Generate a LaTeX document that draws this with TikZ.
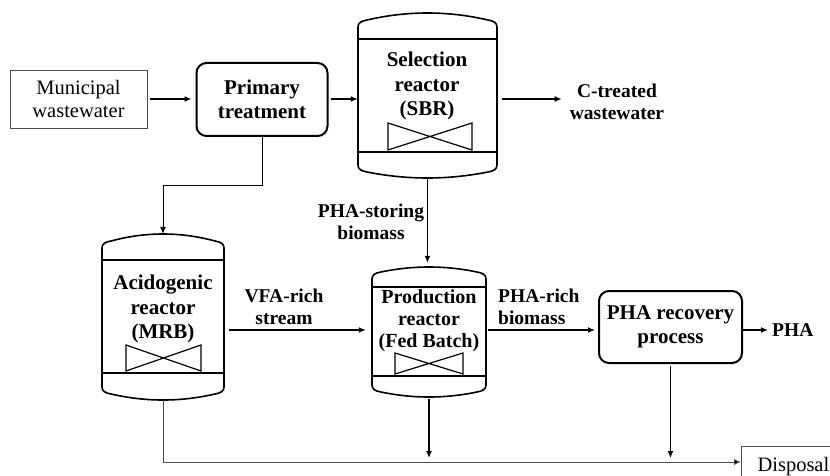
\documentclass[tikz,border=0pt]{standalone}
\usepackage{fontspec}
\setmainfont{Liberation Serif}
\usetikzlibrary{arrows.meta,calc}

\tikzset{
  vesselline/.style={line width=1.6pt},
  mixerline/.style={line width=1.2pt},
  flow/.style={line width=1.3pt,-{Latex[length=7pt,width=6pt]}},
  thinflow/.style={line width=0.9pt,-{Latex[length=7pt,width=6pt]}},
  greyflow/.style={line width=0.9pt,draw=black!70,-{Latex[length=7pt,width=6pt,fill=black]}},
  unitbox/.style={draw,line width=2pt,rounded corners=10pt,align=center,
    font=\bfseries\fontsize{21}{24}\selectfont},
  plainbox/.style={draw=black!70,line width=0.8pt,align=center,
    font=\fontsize{20.5}{23}\selectfont},
  lbl/.style={align=center,font=\bfseries\fontsize{19.5}{22.5}\selectfont,inner sep=0pt},
  headlbl/.style={lbl,font=\bfseries\fontsize{21}{24.5}\selectfont},
}

% vessel: #1 name, #2 left, #3 right, #4 top apex, #5 upper shoulder,
% #6 lower shoulder, #7 bottom apex, #8 upper divider, #9 lower divider
\newcommand\vessel[9]{%
  \pgfmathsetmacro\vtc{(#4-0.25*(#5-7))/0.75}%
  \pgfmathsetmacro\vbc{(#7-0.25*(#6+7))/0.75}%
  \pgfmathsetmacro\vthird{(#3-#2-18)/3}%
  \pgfmathsetmacro\vw{#3-#2}%
  \pgfmathsetmacro\vh{#7-#4}%
  \draw[vesselline] (#2,#6) -- (#2,#5)
    .. controls (#2,#5-4) and (#2+3,#5-6) .. (#2+9,#5-7)
    .. controls ({#2+9+\vthird},\vtc) and ({#3-9-\vthird},\vtc) .. (#3-9,#5-7)
    .. controls (#3-3,#5-6) and (#3,#5-4) .. (#3,#5)
    -- (#3,#6)
    .. controls (#3,#6+4) and (#3-3,#6+6) .. (#3-9,#6+7)
    .. controls ({#3-9-\vthird},\vbc) and ({#2+9+\vthird},\vbc) .. (#2+9,#6+7)
    .. controls (#2+3,#6+6) and (#2,#6+4) .. (#2,#6) -- cycle;
  \draw[vesselline] (#2,#8) -- (#3,#8) (#2,#9) -- (#3,#9);
  \node[inner sep=0pt,minimum width=\vw pt,minimum height=\vh pt]
    (#1) at ({(#2+#3)/2},{(#4+#7)/2}) {};%
}
% bow-tie mixer between two corners
\newcommand\mixer[4]{%
  \draw[mixerline] (#1,#2) -- (#3,#4) -- (#3,#2) -- (#1,#4) -- cycle;%
}

\begin{document}
\begin{tikzpicture}[x=1pt,y=-1pt]
\useasboundingbox (0,0) rectangle (830,476);
\clip (0,0) rectangle (830,476);

% reference levels for the flow lines
\coordinate (mainrow) at (0,99);
\coordinate (lowrow) at (0,330);
\coordinate (droplvl) at (0,458);
\coordinate (wasterow) at (0,462);

% vessels
\vessel{sel}{358}{497}{13}{27}{165}{178}{39}{152}
\mixer{388}{123}{472}{150}
\vessel{acid}{102}{224}{234}{248}{387}{400}{260}{373}
\mixer{126}{345}{201}{371}
\vessel{prod}{372}{486}{267}{279}{385}{397}{287}{376}
\mixer{395}{353}{463}{374}

% vessel labels
\node[headlbl] (seltxt) at (427,86) {Selection\\reactor\\(SBR)};
\node[headlbl] (acidtxt) at (163,309) {Acidogenic\\reactor\\(MRB)};
\node[lbl,font=\bfseries\fontsize{20}{22}\selectfont] (prodtxt) at (429,321) {Production\\reactor\\(Fed Batch)};

% process boxes
\node[plainbox,minimum width=137pt,minimum height=58pt] (mun) at (78.5,99) {Municipal\\wastewater};
\node[unitbox,minimum width=131pt,minimum height=73pt] (prim) at (262,99.5) {Primary\\treatment};
\node[unitbox,minimum width=143pt,minimum height=72pt] (rec) at (670.5,327) {PHA recovery\\process};
\node[plainbox,minimum width=104pt,minimum height=40pt,anchor=north west] (disp) at (741,446) {Disposal};

% stream labels
\node[lbl] (ctw) at (617,102) {C-treated\\wastewater};
\node[lbl] (stor) at (371,222) {PHA-storing\\biomass};
\node[lbl] (vfa) at (284,307) {VFA-rich\\stream};
\node[lbl,align=left,anchor=west] (rich) at (498,307) {PHA-rich\\biomass};
\node[lbl,anchor=west] (pha) at (772,330) {PHA};

% connectors
\draw[flow,shorten <=3pt,shorten >=4pt] (mun.east |- mainrow) -- (prim.west |- mainrow);
\draw[flow,shorten <=2pt] (prim.east |- mainrow) -- (sel.west |- mainrow);
\draw[flow,shorten <=5pt,shorten >=8pt] (sel.east |- mainrow) -- (ctw.west |- mainrow);
\draw[flow,shorten >=4pt] (sel.south) -- (sel.south |- prod.north);
\draw[thinflow] (prim.south) -- ++(0,48) -| (acid.north);
\draw[flow,shorten <=5pt,shorten >=6pt] (acid.east |- lowrow) -- (prod.west |- lowrow);
\draw[flow,shorten <=2pt,shorten >=3pt] (prod.east |- lowrow) -- (rec.west |- lowrow);
\draw[flow,shorten >=4pt] (rec.east |- lowrow) -- (pha.west |- lowrow);
\draw[flow,shorten <=2pt] (rec.south) -- (rec.south |- droplvl);
\draw[flow,shorten <=2pt] (prod.south) -- (prod.south |- droplvl);
\draw[greyflow] (acid.south) -- (acid.south |- wasterow) -- (disp.west |- wasterow);
\end{tikzpicture}
\end{document}
